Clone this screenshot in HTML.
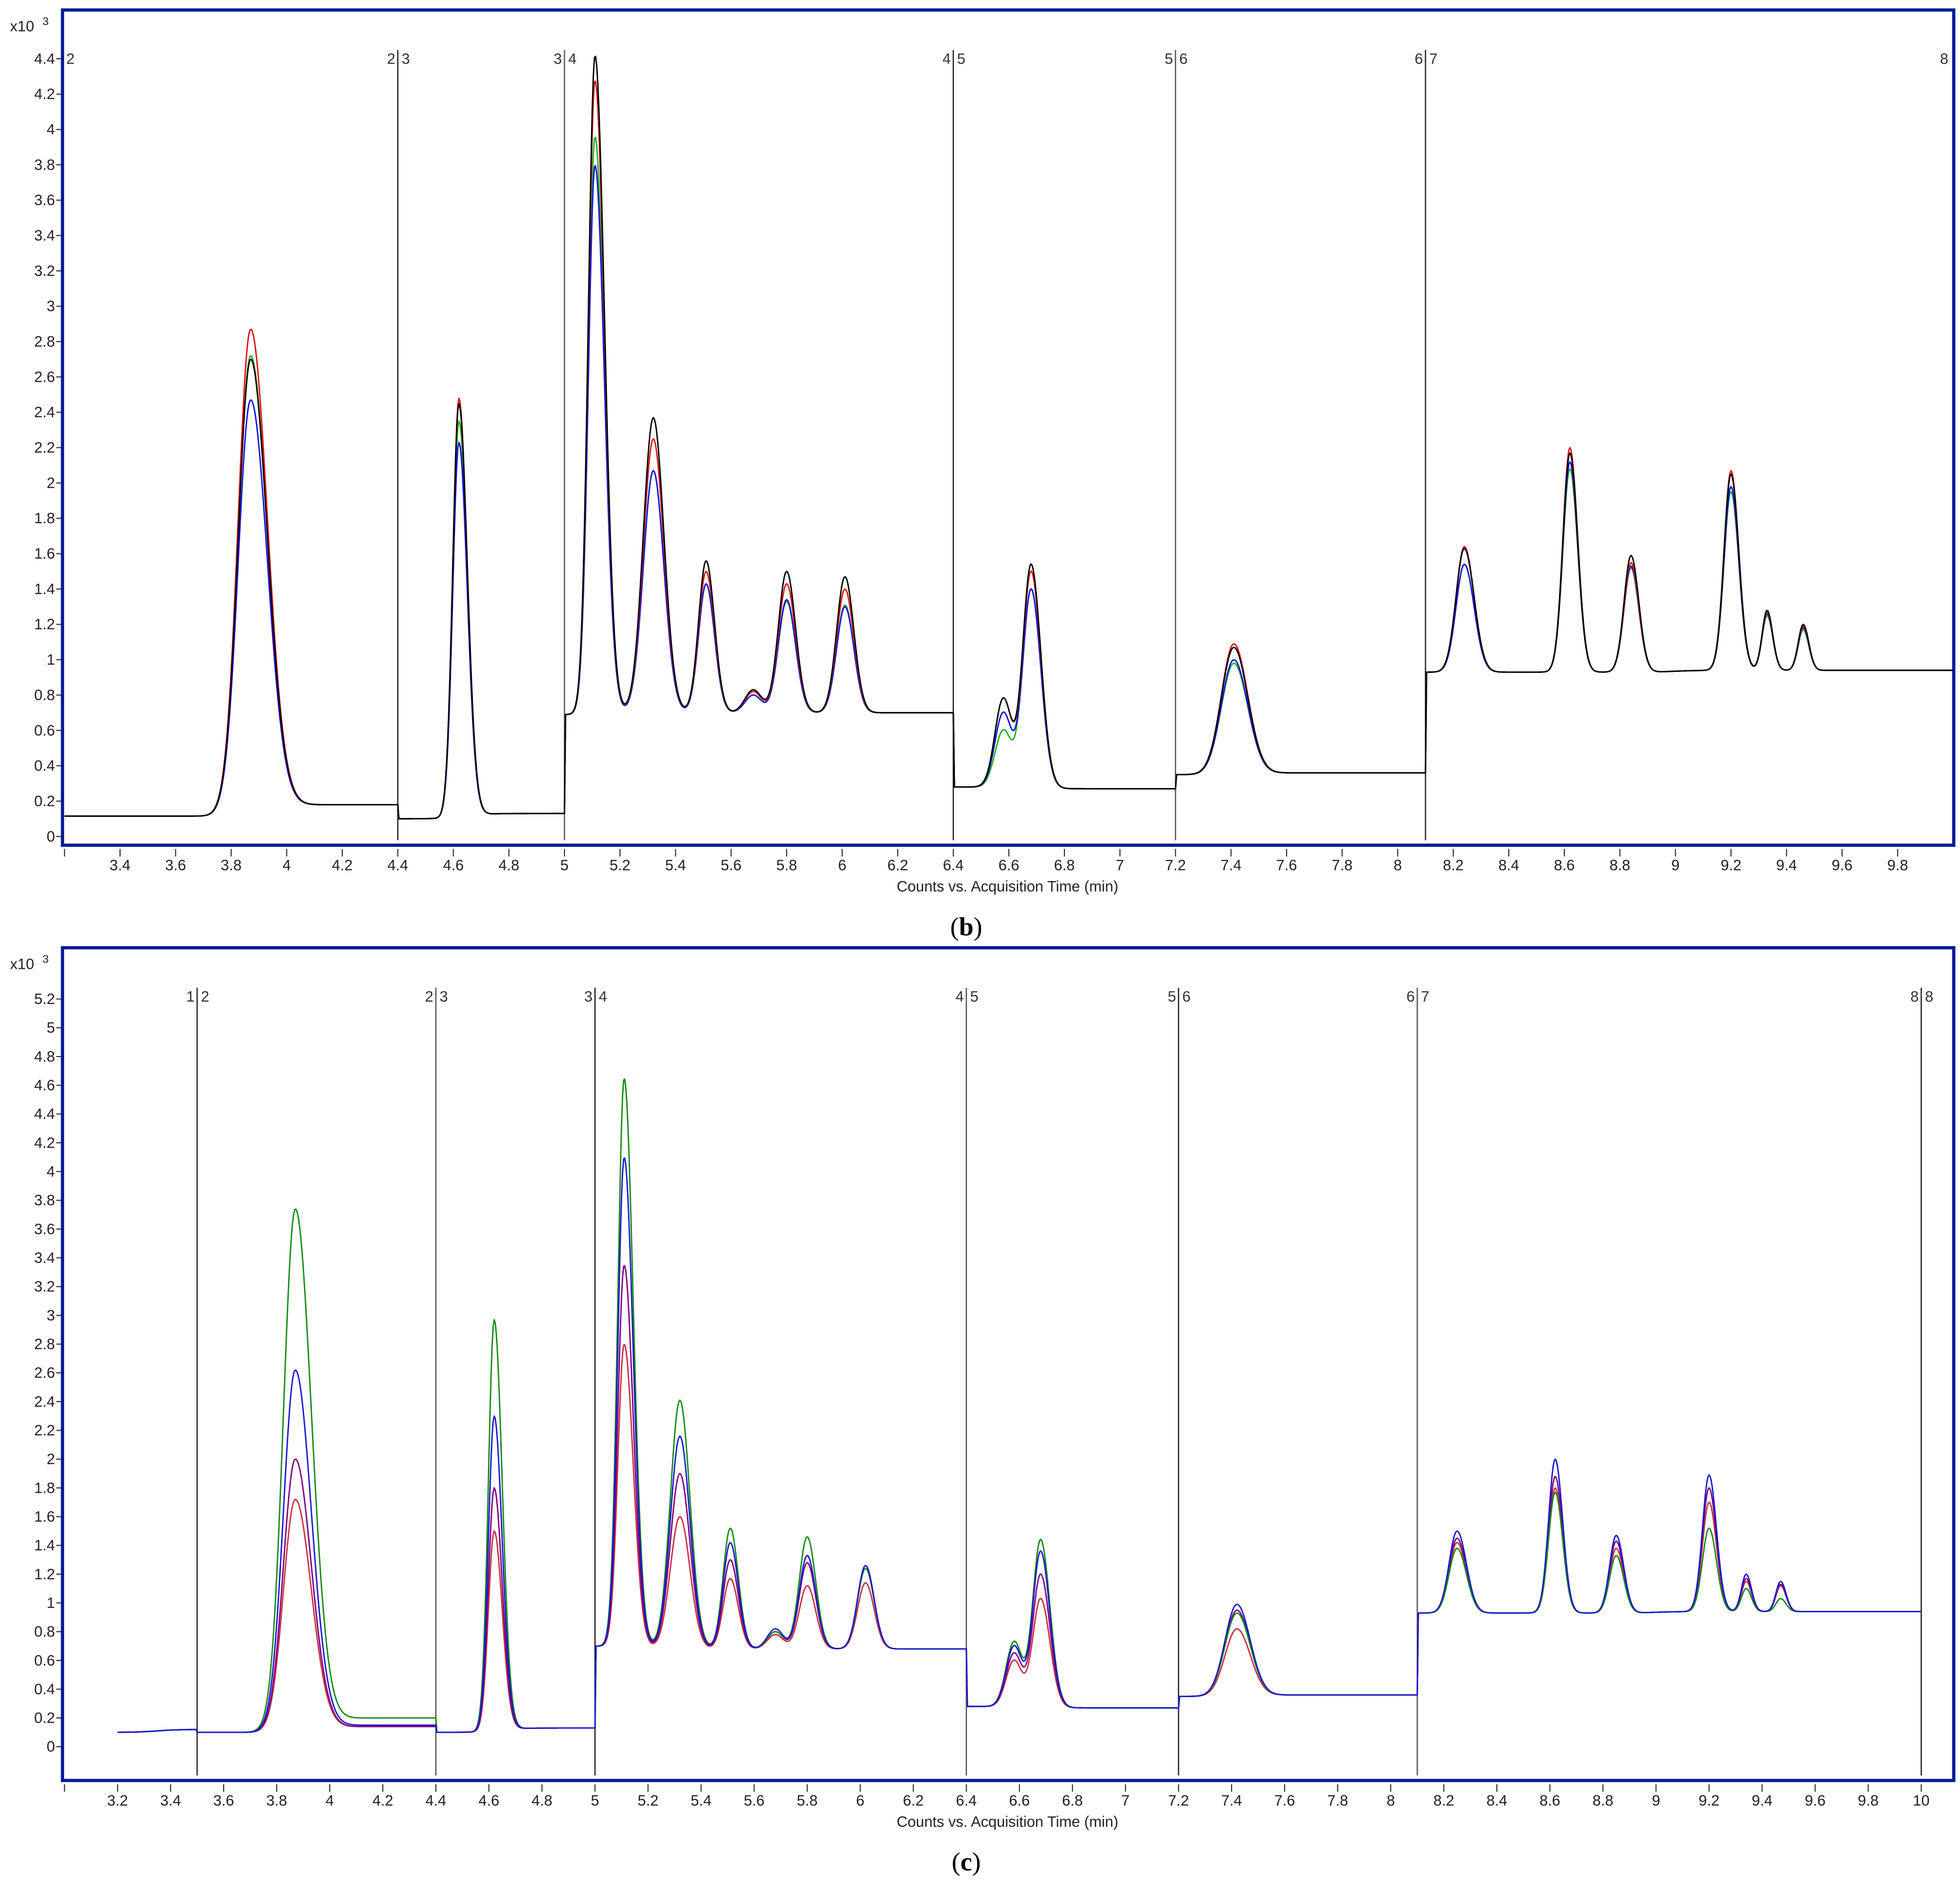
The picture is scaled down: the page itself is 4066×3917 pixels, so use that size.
<!DOCTYPE html>
<html><head><meta charset="utf-8"><style>
html,body{margin:0;padding:0;background:#fff}
svg{display:block}
text{font-family:"Liberation Sans",sans-serif}
</style></head><body>
<svg id="fig" xmlns="http://www.w3.org/2000/svg" width="4066" height="3917" viewBox="0 0 1568 1510" preserveAspectRatio="none"></svg>
<script>
// ---- Panel (b) data ----
const bSegStart = [3.2, 4.4, 5.0, 6.4, 7.2, 8.1];
const bSegEnd   = [4.4, 5.0, 6.4, 7.2, 8.1, 10.0];
const bSegPre   = [0.115, 0.10, 0.69, 0.28, 0.35, 0.93];
const bSegPost  = [0.18, 0.13, 0.70, 0.27, 0.36, 0.94];
const bSegMid   = [3.9, 4.64, 5.2, 6.7, 7.44, 9.0];
const bPeakTimes = [3.87, 4.62, 5.11, 5.32, 5.51, 5.68, 5.80, 6.01, 6.58, 6.68, 7.41, 8.24, 8.62, 8.84, 9.20, 9.33, 9.46];
const bSigL      = [0.045,0.022,0.024,0.036,0.027,0.030,0.030,0.030,0.030,0.030,0.045,0.030,0.025,0.025,0.025,0.018,0.018];
const bSigR      = [0.060,0.030,0.034,0.038,0.030,0.030,0.032,0.032,0.030,0.035,0.050,0.035,0.028,0.028,0.028,0.020,0.020];
const bGreen = [2.72, 2.35, 3.96, 2.07, 1.43, 0.80, 1.33, 1.31, 0.60, 1.40, 0.98, 1.54, 2.08, 1.52, 1.95, 1.25, 1.17];
const bBlue  = [2.47, 2.23, 3.80, 2.07, 1.43, 0.80, 1.34, 1.30, 0.70, 1.40, 1.00, 1.54, 2.12, 1.53, 1.98, 1.26, 1.18];
const bRed   = [2.87, 2.48, 4.28, 2.25, 1.50, 0.82, 1.43, 1.40, 0.78, 1.50, 1.09, 1.64, 2.20, 1.55, 2.07, 1.27, 1.19];
const bBlack = [2.70, 2.45, 4.42, 2.37, 1.56, 0.83, 1.50, 1.47, 0.78, 1.54, 1.07, 1.63, 2.17, 1.59, 2.05, 1.28, 1.20];
const bYTicks = [0,0.2,0.4,0.6,0.8,1,1.2,1.4,1.6,1.8,2,2.2,2.4,2.6,2.8,3,3.2,3.4,3.6,3.8,4,4.2,4.4];
const bXTicks = [3.2,3.4,3.6,3.8,4,4.2,4.4,4.6,4.8,5,5.2,5.4,5.6,5.8,6,6.2,6.4,6.6,6.8,7,7.2,7.4,7.6,7.8,8,8.2,8.4,8.6,8.8,9,9.2,9.4,9.6,9.8];
const bBounds = [4.4, 5.0, 6.4, 7.2, 8.1];
const bBoundL = ["2","3","4","5","6"];
const bBoundR = ["3","4","5","6","7"];

// ---- Panel (c) data ----
const cSegStart = [3.2, 3.5, 4.4, 5.0, 6.4, 7.2, 8.1];
const cSegEnd   = [3.5, 4.4, 5.0, 6.4, 7.2, 8.1, 10.0];
const cSegPre   = [0.10, 0.10, 0.10, 0.70, 0.28, 0.35, 0.93];
const cSegPost  = [0.12, 0.14, 0.13, 0.68, 0.27, 0.36, 0.94];
const cSegMid   = [3.35, 3.9, 4.64, 5.2, 6.7, 7.45, 9.0];
const cPeakTimes = [3.87, 4.62, 5.11, 5.32, 5.51, 5.68, 5.80, 6.02, 6.58, 6.68, 7.42, 8.25, 8.62, 8.85, 9.20, 9.34, 9.47];
const cSigL      = [0.045,0.022,0.024,0.036,0.027,0.030,0.030,0.030,0.030,0.030,0.045,0.030,0.025,0.025,0.025,0.018,0.018];
const cSigR      = [0.060,0.030,0.034,0.038,0.030,0.030,0.032,0.032,0.030,0.035,0.050,0.035,0.028,0.028,0.028,0.020,0.020];
const cGreen  = [3.74, 2.97, 4.65, 2.41, 1.52, 0.80, 1.46, 1.24, 0.73, 1.44, 0.93, 1.38, 1.77, 1.33, 1.52, 1.10, 1.03];
const cBlue   = [2.62, 2.30, 4.10, 2.16, 1.42, 0.82, 1.33, 1.26, 0.70, 1.36, 0.99, 1.50, 2.00, 1.47, 1.89, 1.20, 1.15];
const cPurple = [2.00, 1.80, 3.35, 1.90, 1.30, 0.80, 1.28, 1.26, 0.65, 1.20, 0.95, 1.45, 1.88, 1.43, 1.80, 1.17, 1.13];
const cRed    = [1.72, 1.50, 2.80, 1.60, 1.17, 0.78, 1.12, 1.14, 0.60, 1.03, 0.82, 1.42, 1.80, 1.38, 1.70, 1.15, 1.12];
const cTailGreen = 0.20, cTailBlue = 0.15, cTailPurple = 0.14, cTailRed = 0.14; // post-peak baseline seg 2
const cYTicks = [0,0.2,0.4,0.6,0.8,1,1.2,1.4,1.6,1.8,2,2.2,2.4,2.6,2.8,3,3.2,3.4,3.6,3.8,4,4.2,4.4,4.6,4.8,5,5.2];
const cXTicks = [3,3.2,3.4,3.6,3.8,4,4.2,4.4,4.6,4.8,5,5.2,5.4,5.6,5.8,6,6.2,6.4,6.6,6.8,7,7.2,7.4,7.6,7.8,8,8.2,8.4,8.6,8.8,9,9.2,9.4,9.6,9.8,10];
const cBounds = [3.5, 4.4, 5.0, 6.4, 7.2, 8.1, 10.0];
const cBoundL = ["1","2","3","4","5","6","8"];
const cBoundR = ["2","3","4","5","6","7","8"];

const NS = "http://www.w3.org/2000/svg";
const svg = document.getElementById('fig');
function mk(tag, attrs, parent, txt){
  const e = document.createElementNS(NS, tag);
  for (const k in attrs) e.setAttribute(k, attrs[k]);
  if (txt !== undefined) e.textContent = txt;
  (parent || svg).appendChild(e);
  return e;
}
function fmt(v){ return String(Math.round(v*10)/10); }

function drawPanel(P){
  const g = mk('g', {});
  
  
  const X = t => P.x0 + (t - P.t0) * P.xs;
  const Y = v => P.y0 - v * P.ys;
  const fr = mk('rect', {x:P.fx1, y:P.fy1, width:P.fx2-P.fx1, height:P.fy2-P.fy1, fill:'none', stroke:'#0a1a9a', 'stroke-width':2.6}, g);
  
  
  const mt = mk('text', {x:8, y:P.fy1+17, 'font-size':12, fill:'#222'}, g, 'x10');
  
  
  mk('text', {x:34, y:P.fy1+12, 'font-size':9, fill:'#222'}, g, '3');
  P.yTicks.forEach(v => {
    const y = Y(v);
    mk('line', {x1:P.fx1-5, x2:P.fx1, y1:y, y2:y, stroke:'#222', 'stroke-width':0.8}, g);
    const t = mk('text', {x:P.fx1-6, y:y+4, 'font-size':12, 'text-anchor':'end', fill:'#222'}, g, fmt(v));
    
    
  });
  P.xTicks.forEach(v => {
    const x = X(v);
    mk('line', {x1:x, x2:x, y1:P.fy2+3, y2:P.fy2+9, stroke:'#222', 'stroke-width':0.8}, g);
    if (Math.abs(v - P.unlabeled) > 1e-6) {
      const t = mk('text', {x:x, y:P.fy2+20, 'font-size':12, 'text-anchor':'middle', fill:'#222'}, g, fmt(v));
      
      
    }
  });
  const xt = mk('text', {x:806, y:P.fy2+37, 'font-size':12, 'text-anchor':'middle', fill:'#222'}, g, 'Counts vs. Acquisition Time (min)');
  
  
  const pl = mk('text', {x:773, y:P.fy2+72, 'font-size':21, 'text-anchor':'middle', fill:'#000', style:'font-family:"Liberation Serif",serif'}, g);
  
  
  mk('tspan', {}, pl, '(');
  mk('tspan', {'font-weight':'bold'}, pl, P.letter);
  mk('tspan', {}, pl, ')');
  if (P.firstLabel) {
    mk('text', {x:P.fx1+3, y:P.labY, 'font-size':12, fill:'#333'}, g, P.firstLabel);
  }
  P.bounds.forEach((b, i) => {
    const x = X(b);
    const ln = mk('line', {x1:x, x2:x, y1:P.lineTop, y2:P.fy2-4, stroke: (i%2? '#555':'#222'), 'stroke-width':1}, g);
    
    
    mk('text', {x:x-2, y:P.labY, 'font-size':12, 'text-anchor':'end', fill:'#333'}, g, P.boundL[i]);
    mk('text', {x:x+3, y:P.labY, 'font-size':12, fill:'#333'}, g, P.boundR[i]);
  });
  P.series.forEach(s => {
    let d = '';
    for (let t = P.segStart[0]; t <= P.segEnd[P.segEnd.length-1] + 1e-9; t += 0.004) {
      let k = P.segStart.length - 1;
      for (let j = 0; j < P.segStart.length; j++) if (t >= P.segStart[j] && t < P.segEnd[j]) { k = j; break; }
      let post = P.segPost[k];
      if (s.tail !== undefined && k === P.tailSeg) post = s.tail;
      const pre = P.segPre[k];
      const bl = tt => pre + (post - pre) / (1 + Math.exp(-(tt - P.segMid[k]) / 0.04));
      let v = bl(t);
      P.peakTimes.forEach((pt, pi) => {
        if (pt < P.segStart[k] || pt >= P.segEnd[k]) return;
        const amp = s.h[pi] - bl(pt);
        const sg = t < pt ? P.sigL[pi] : P.sigR[pi];
        v += amp * Math.exp(-((t - pt) ** 2) / (2 * sg * sg));
      });
      d += (d ? 'L' : 'M') + X(t).toFixed(2) + ' ' + Y(v).toFixed(2);
    }
    const p = mk('path', {d:d, fill:'none', stroke:s.color, 'stroke-width':1.1, 'stroke-linejoin':'round'}, g);
    
    
  });
}

drawPanel({
  name:'panel-b', letter:'b', fx1:50, fy1:8, fx2:1563, fy2:676,
  x0:51.6, t0:3.2, xs:222.2, y0:669, ys:141.36,
  yTicks:bYTicks, xTicks:bXTicks, unlabeled:3.2,
  segStart:bSegStart, segEnd:bSegEnd, segPre:bSegPre, segPost:bSegPost, segMid:bSegMid,
  peakTimes:bPeakTimes, sigL:bSigL, sigR:bSigR,
  bounds:bBounds, boundL:bBoundL, boundR:bBoundR, firstLabel:'2', labY:51, lineTop:40,
  series:[
    {name:'series-green', color:'#20b020', h:bGreen},
    {name:'series-blue', color:'#1010e0', h:bBlue},
    {name:'series-red', color:'#e01010', h:bRed},
    {name:'series-black', color:'#000000', h:bBlack}
  ]
});
mk('text', {x:1552, y:51, 'font-size':12, fill:'#333'}, svg, '8');

drawPanel({
  name:'panel-c', letter:'c', fx1:50, fy1:758, fx2:1563, fy2:1424,
  x0:51.6, t0:3.0, xs:212.2, y0:1397, ys:115,
  yTicks:cYTicks, xTicks:cXTicks, unlabeled:3.0,
  segStart:cSegStart, segEnd:cSegEnd, segPre:cSegPre, segPost:cSegPost, segMid:cSegMid,
  peakTimes:cPeakTimes, sigL:cSigL, sigR:cSigR, tailSeg:1,
  bounds:cBounds, boundL:cBoundL, boundR:cBoundR, firstLabel:null, labY:801, lineTop:790,
  series:[
    {name:'series-red', color:'#c83040', h:cRed, tail:cTailRed},
    {name:'series-purple', color:'#800080', h:cPurple, tail:cTailPurple},
    {name:'series-green', color:'#158a15', h:cGreen, tail:cTailGreen},
    {name:'series-blue', color:'#1818d0', h:cBlue, tail:cTailBlue}
  ]
});
</script>
</body></html>
